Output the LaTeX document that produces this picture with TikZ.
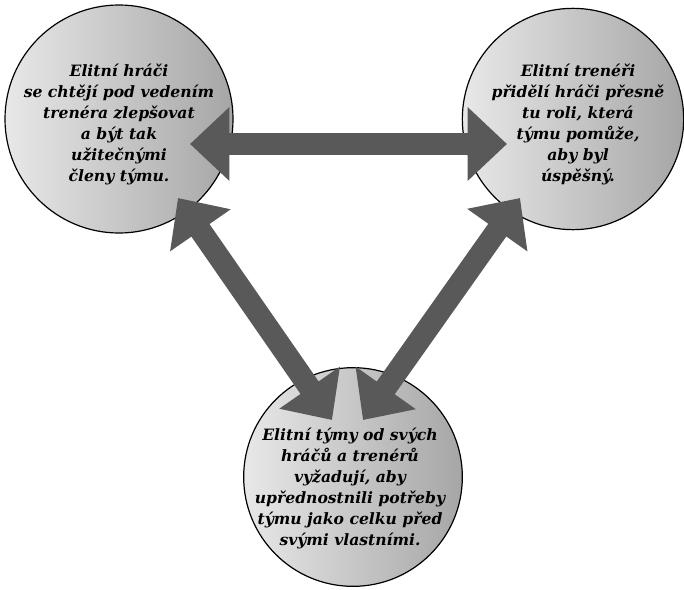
\documentclass[tikz,border=0pt]{standalone}
\usepackage{fontspec}
\setmainfont{DejaVu Serif}
\usetikzlibrary{arrows.meta}
\definecolor{arrgray}{RGB}{89,89,89}
\definecolor{lightg}{RGB}{232,232,232}
\definecolor{darkg}{RGB}{166,166,166}
\begin{document}
\begin{tikzpicture}[x=0.75pt,y=-0.75pt,
  bubble/.style={circle, draw=black, line width=0.9pt, inner sep=0pt,
    left color=lightg, right color=darkg},
  bubtext/.style={align=center, font=\fontsize{11.7}{15.75}\selectfont\bfseries\itshape},
  biarrow/.style={draw=arrgray, line width=16.5pt, <->,
    >={Triangle[length=29.5pt 0 0,width=53.5pt 0 0]}}]
\useasboundingbox (0,0) rectangle (684,589);
% circles
\node[bubble, minimum size=171pt] (A) at (119,119) {};
\node[bubble, minimum size=166pt] (B) at (573,119) {};
\node[bubble, minimum size=164pt] (C) at (353,477) {};
% texts
\node[bubtext] (tA) at (119,124.5) {Elitní hráči\\se chtějí pod vedením\\trenéra zlepšovat\\a být tak\\užitečnými\\členy týmu.};
\node[bubtext] (tB) at (578,124) {Elitní trenéři\\přidělí hráči přesně\\tu roli, která\\týmu pomůže,\\aby byl\\úspěšný.};
\node[bubtext] (tC) at (350,488) {Elitní týmy od svých\\hráčů a trenérů\\vyžadují, aby\\upřednostnili potřeby\\týmu jako celku před\\svými vlastními.};
% arrow tips
\coordinate (ab1) at (190,144);
\coordinate (ab2) at (507,144);
\coordinate (ac1) at (178,198);
\coordinate (ac2) at (332,420);
\coordinate (bc1) at (520,198);
\coordinate (bc2) at (363,420);
\draw[biarrow] (ab1) -- (ab2);
\draw[biarrow] (ac1) -- (ac2);
\draw[biarrow] (bc1) -- (bc2);
\end{tikzpicture}
\end{document}
